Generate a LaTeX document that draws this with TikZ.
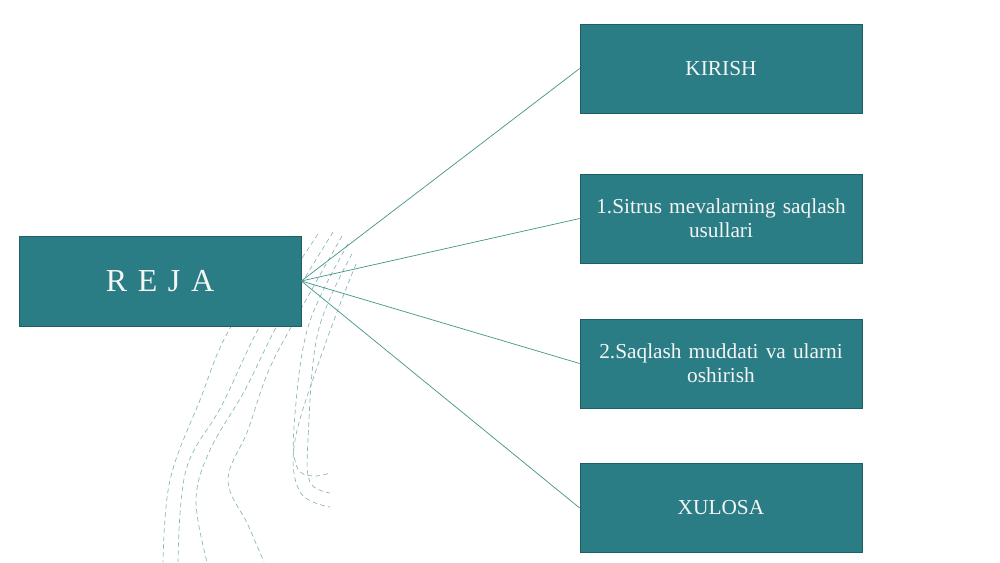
\documentclass[tikz,border=0pt]{standalone}
\usepackage{fontspec}
\setmainfont{Liberation Serif}
\definecolor{boxfill}{RGB}{42,124,133}
\definecolor{boxedge}{RGB}{30,95,102}
\definecolor{linkcol}{RGB}{72,150,140}
\definecolor{dashcol}{RGB}{135,180,185}
\definecolor{txtcol}{RGB}{245,245,245}
\tikzset{
  itembox/.style={draw=boxedge, line width=0.5pt, fill=boxfill, text=txtcol,
    minimum width=211.5pt, minimum height=67pt, inner sep=2pt, align=center,
    font=\fontsize{16}{18}\selectfont, text width=205pt},
  rejabox/.style={itembox, minimum height=67.5pt, font=\fontsize{24}{28}\selectfont},
  link/.style={draw=linkcol, line width=0.55pt},
  contour/.style={draw=dashcol, line width=0.5pt, dash pattern=on 3.5pt off 2.5pt}
}
\begin{document}
\begin{tikzpicture}[x=0.75pt, y=-0.75pt]
\useasboundingbox (0,0) rectangle (1000,562);
% decorative dashed contours
\draw[contour] plot[smooth, tension=0.6] coordinates {(300,236) (232,325) (200,400) (170,480) (163,562)};
\draw[contour] plot[smooth, tension=0.6] coordinates {(318,234) (262,322) (222,405) (186,470) (178,562)};
\draw[contour] plot[smooth, tension=0.6] coordinates {(333,232) (280,320) (245,390) (210,450) (196,500) (207,562)};
\draw[contour] plot[smooth, tension=0.6] coordinates {(342,236) (296,318) (268,372) (248,430) (228,480) (248,525) (264,562)};
\draw[contour] plot[smooth, tension=0.6] coordinates {(348,244) (308,327) (294,427) (297,467) (312,476) (330,473)};
\draw[contour] plot[smooth, tension=0.6] coordinates {(352,254) (318,332) (308,440) (310,482) (330,493)};
\draw[contour] plot[smooth, tension=0.6] coordinates {(356,264) (326,342) (295,440) (300,492) (330,507)};
% boxes
\node[rejabox] (reja) at (160,281) {R E J A};
\node[itembox] (kirish) at (721,68.5) {KIRISH};
\node[itembox] (sitrus) at (721,218.5) {1.Sitrus mevalarning saqlash\\usullari};
\node[itembox] (muddat) at (721,363.5) {2.Saqlash muddati va ularni\\oshirish};
\node[itembox] (xulosa) at (721,508) {XULOSA};
% connectors
\draw[link] (reja.east) -- (kirish.west);
\draw[link] (reja.east) -- (sitrus.west);
\draw[link] (reja.east) -- (muddat.west);
\draw[link] (reja.east) -- (xulosa.west);
\end{tikzpicture}
\end{document}
